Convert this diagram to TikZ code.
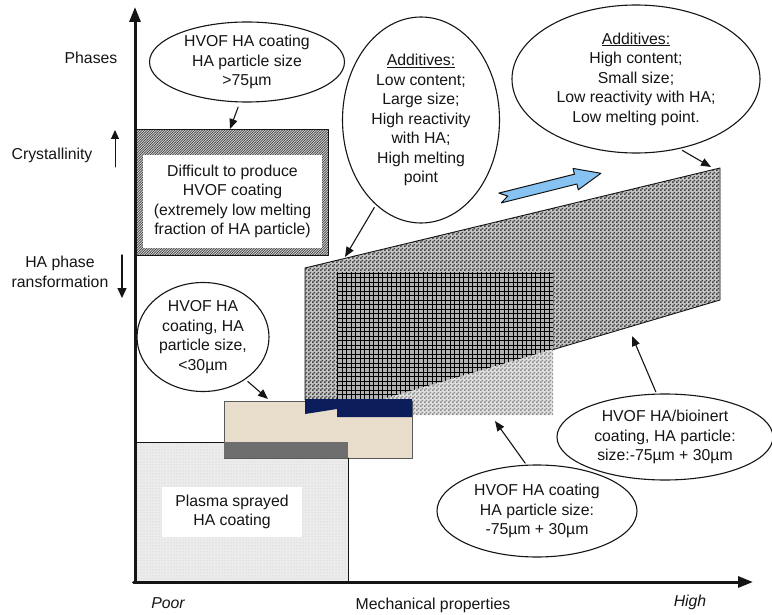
\documentclass[tikz,border=0pt]{standalone}
\usepackage{fontspec}
\setmainfont{Liberation Sans}
\usetikzlibrary{arrows.meta,calc,positioning,patterns,shapes.geometric}
\definecolor{hvofInk}{HTML}{151515}
\definecolor{hvofNavy}{HTML}{0B1D5A}
\definecolor{hvofBeige}{HTML}{E8DDCB}
\definecolor{hvofBar}{HTML}{6E6E6E}
\definecolor{hvofSky}{HTML}{86C3F2}
\definecolor{hvofPlasma}{HTML}{ECECEC}
\definecolor{hvofEdge}{HTML}{5A5A5A}
% finer patterns than the library ones
\pgfdeclarepatternformonly{finechecker}{\pgfqpoint{0pt}{0pt}}{\pgfqpoint{4pt}{4pt}}{\pgfqpoint{4pt}{4pt}}{\pgfpathrectangle{\pgfqpoint{0pt}{0pt}}{\pgfqpoint{2pt}{2pt}}\pgfpathrectangle{\pgfqpoint{2pt}{2pt}}{\pgfqpoint{2pt}{2pt}}\pgfusepath{fill}}
\pgfdeclarepatternformonly{meshgrid}{\pgfqpoint{-1pt}{-1pt}}{\pgfqpoint{5pt}{5pt}}{\pgfqpoint{4.5pt}{4.5pt}}{\pgfsetlinewidth{0.8pt}\pgfpathmoveto{\pgfqpoint{0pt}{0pt}}\pgfpathlineto{\pgfqpoint{0pt}{4.6pt}}\pgfpathmoveto{\pgfqpoint{0pt}{0pt}}\pgfpathlineto{\pgfqpoint{4.6pt}{0pt}}\pgfusepath{stroke}}
\pgfdeclarepatternformonly{finehatch}{\pgfqpoint{-1pt}{-1pt}}{\pgfqpoint{3.5pt}{3.5pt}}{\pgfqpoint{2.5pt}{2.5pt}}{\pgfsetlinewidth{0.6pt}\pgfpathmoveto{\pgfqpoint{0pt}{0pt}}\pgfpathlineto{\pgfqpoint{2.6pt}{2.6pt}}\pgfusepath{stroke}}
\begin{document}
\begin{tikzpicture}[x=1pt,y=-1pt,>=Latex,line cap=round,line join=round]
\useasboundingbox[fill=white] (0,0) rectangle (772,615);
\tikzset{txt/.style={font=\fontsize{15.8}{19.5}\selectfont,text=hvofInk,align=center,inner sep=0pt},bubble/.style={txt,draw=hvofInk,line width=1.1pt,ellipse,fill=white},pointer/.style={draw=hvofInk,line width=1.1pt,-{Triangle[length=10pt,width=8pt]}},axis/.style={draw=hvofInk,line width=3pt,-{Triangle[length=15pt,width=11pt]}},panel/.style={txt,fill=white}}
% regions of the chart
\path[fill=black!18] (136,130) rectangle (328,256);
\path[pattern=finehatch,pattern color=black!80] (136,130) rectangle (328,256);
\draw[draw=hvofInk,line width=1pt] (136,130) rectangle (328,256);
\path[fill=hvofPlasma] (135,442) rectangle (348,582);
\path[pattern=dots,pattern color=black!22] (135,442) rectangle (348,582);
\draw[draw=hvofInk,line width=0.9pt] (135,442) rectangle (348,582);
\path[fill=black!22] (305,268) -- (720,168) -- (720,300) -- (380,400) -- (305,400) -- cycle;
\path[pattern=finechecker,pattern color=black!75] (305,268) -- (720,168) -- (720,300) -- (380,400) -- (305,400) -- cycle;
\begin{scope}
\clip (305,268) -- (720,168) -- (720,300) -- (380,400) -- (305,400) -- cycle;
\path[fill=black!30] (337,272) rectangle (553,400);
\path[pattern=meshgrid,pattern color=black] (337,272) rectangle (553,400);
\end{scope}
\path[fill=black!12] (380,400) -- (553,349.6) -- (553,415) -- (412,415) -- cycle;
\path[pattern=finechecker,pattern color=black!45] (380,400) -- (553,349.6) -- (553,415) -- (412,415) -- cycle;
\draw[draw=hvofInk,line width=0.9pt] (305,400) -- (305,268) -- (720,168) -- (720,300) -- (553,349.6);
\path[fill=hvofBeige,draw=hvofEdge,line width=1pt] (224,401) rectangle (412,458);
\path[fill=hvofBar] (224,442) rectangle (348,458);
\path[fill=hvofNavy] (305,399) -- (412,399) -- (412,417) -- (337,417) -- (337,409) -- (305,414) -- cycle;
\draw[draw=hvofInk,line width=0.9pt] (348,458) -- (348,582);
\path[fill=hvofSky,draw=hvofInk,line width=1pt] (498.8,193.1) -- (507.8,196.1) -- (501.2,202.9) -- (576.9,184.0) -- (578.3,189.8) -- (600.9,173.3) -- (573.0,168.4) -- (574.5,174.2) -- cycle;
% text panels
\node[panel,minimum width=179pt,minimum height=93pt] (hardBox) at (232.5,201.5) {Difficult to produce\\HVOF coating\\(extremely low melting\\fraction of HA particle)};
\node[panel,minimum width=140pt,minimum height=50pt] (plasmaBox) at (232,512) {Plasma sprayed\\HA coating};
% bubbles
\node[bubble,minimum width=195pt,minimum height=80pt] (sizeLarge) at (247,62) {HVOF HA coating\\HA particle size\\>75µm};
\node[bubble,minimum width=157pt,minimum height=206pt] (addLow) at (421,120) {\underline{Additives:}\\Low content;\\Large size;\\High reactivity\\with HA;\\High melting\\point};
\node[bubble,minimum width=248pt,minimum height=148pt] (addHigh) at (636,79) {\underline{Additives:}\\High content;\\Small size;\\Low reactivity with HA;\\Low melting point.};
\node[bubble,minimum width=132pt,minimum height=109pt] (sizeSmall) at (203,337) {HVOF HA\\coating, HA\\particle size,\\<30µm};
\node[bubble,minimum width=200pt,minimum height=92pt] (sizeMid) at (537,511) {HVOF HA coating\\HA particle size:\\-75µm + 30µm};
\node[bubble,minimum width=216pt,minimum height=86pt] (bioInert) at (665,437) {HVOF HA/bioinert\\coating, HA particle:\\size:-75µm + 30µm};
% pointers
\coordinate (hardTip) at (230,129);
\coordinate (wedgeTip) at (345,257);
\coordinate (cornerTip) at (711,167);
\coordinate (beigeTip) at (268,399);
\coordinate (meshTip) at (495,421);
\coordinate (slabTip) at (632,336);
\draw[pointer,shorten <=5pt] (sizeLarge.-100) -- (hardTip);
\draw[pointer,shorten <=3pt] (addLow.-118) -- (wedgeTip);
\draw[pointer,shorten <=3pt] (addHigh.-58) -- (cornerTip);
\draw[pointer,shorten <=3pt] (sizeSmall.-45) -- (beigeTip);
\draw[pointer,shorten <=2pt] (sizeMid.103) -- (meshTip);
\draw[pointer,shorten <=2pt] (bioInert.101) -- (slabTip);
% axes and side labels
\coordinate (origin) at (135,582);
\coordinate (yTip) at (135,7);
\coordinate (xTip) at (753,582);
\draw[axis] (origin) -- (yTip);
\draw[axis] ($(origin)+(-1.5,0)$) -- (xTip);
\node[txt] (phases) at (91,58) {Phases};
\node[txt] (crystal) at (52,155) {Crystallinity};
\node[txt] (phaseChange) at (60,272) {HA phase\\ransformation};
\coordinate (upFoot) at (115,167);
\coordinate (upHead) at (115,130);
\coordinate (downFoot) at (122,255);
\coordinate (downHead) at (122,298);
\draw[draw=hvofInk,line width=1pt,-{Triangle[length=9pt,width=8pt]}] (upFoot) -- (upHead);
\draw[draw=hvofInk,line width=1.4pt,-{Triangle[length=10pt,width=9pt]}] (downFoot) -- (downHead);
\node[txt,font=\fontsize{15.8}{19.5}\selectfont\itshape] (poor) at (168,603) {Poor};
\node[txt] (mech) at (433,605) {Mechanical properties};
\node[txt,font=\fontsize{15.8}{19.5}\selectfont\itshape] (high) at (690,602) {High};
\end{tikzpicture}
\end{document}
